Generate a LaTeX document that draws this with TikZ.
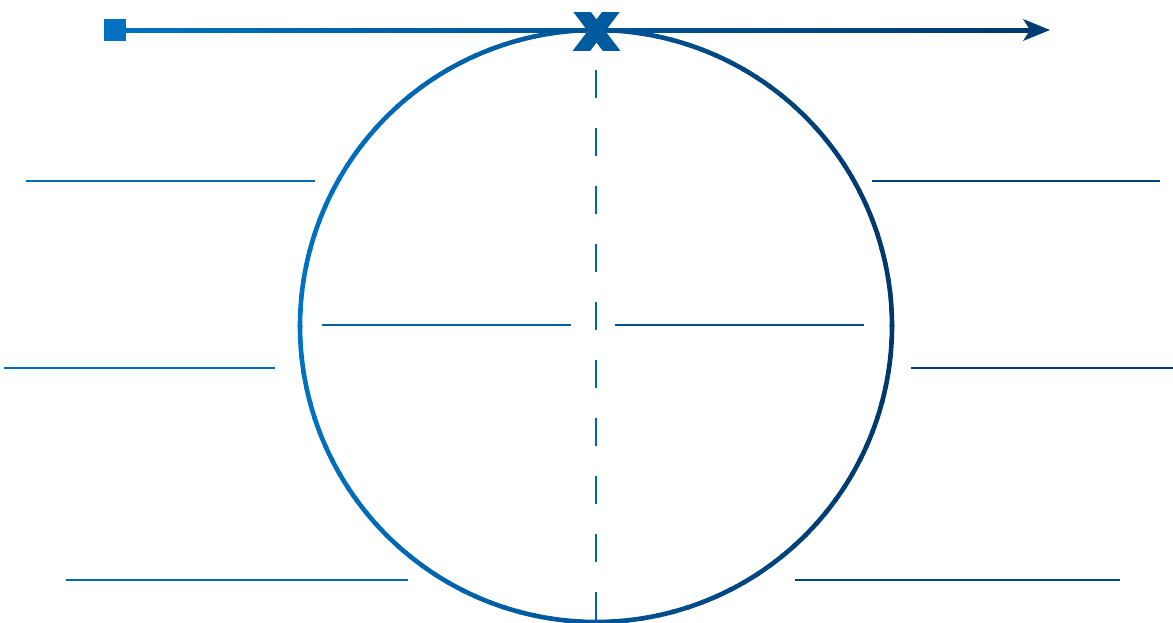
\documentclass[tikz,border=0pt]{standalone}
\usetikzlibrary{calc}
\definecolor{cL}{RGB}{0,114,192}
\definecolor{cR}{RGB}{0,56,108}
\tikzset{
  thinline/.style={line width=1.3pt},
  ringseg/.style={line width=4.6pt, line cap=round},
  dashline/.style={line width=2.6pt, dash pattern=on 28pt off 30pt, color=cL!75!cR},
  xarm/.style={line width=14pt, color=cL!60!cR},
}
\begin{document}
\begin{tikzpicture}[x=1pt,y=-1pt]
\useasboundingbox (0,0) rectangle (1173,622);
\coordinate (C) at (596,326);
% circle with horizontal gradient, drawn as short arcs
\foreach \a in {0,3,...,357}{
  \pgfmathtruncatemacro{\t}{round(50*(1-cos(\a+1.5)))}
  \draw[ringseg, cL!\t!cR] ($(C)+(\a:296pt)$) arc[start angle=\a, end angle=\a+3.2, radius=296pt];
}
% dashed vertical axis
\coordinate (dtop) at (596,70);
\coordinate (dbot) at (596,624);
\draw[dashline] (dtop) -- (dbot);
% top arrow line
\shade[left color=cL, right color=cR] (115,28) rectangle (1032,32);
\fill[cR!92!cL] (1023,19) -- (1050,30) -- (1023,41) -- (1030,30) -- cycle;
\fill[cL] (104,19) rectangle (126,41);
% X marker
\begin{scope}
\clip (560,12) rectangle (640,50);
\draw[xarm] (573,0) -- (620,62);
\draw[xarm] (620,0) -- (573,62);
\end{scope}
% thin lines
\draw[thinline, cL!90!cR] (26,181) -- (315,181);
\draw[thinline, cL!92!cR] (4,368) -- (275,368);
\draw[thinline, cL!85!cR] (66,580) -- (408,580);
\draw[thinline, cL!70!cR] (322,325) -- (571,325);
\draw[thinline, cL!40!cR] (615,325) -- (864,325);
\draw[thinline, cL!15!cR] (872,181) -- (1160,181);
\draw[thinline, cL!10!cR] (911,368) -- (1173,368);
\draw[thinline, cL!25!cR] (795,580) -- (1120,580);
\end{tikzpicture}
\end{document}
